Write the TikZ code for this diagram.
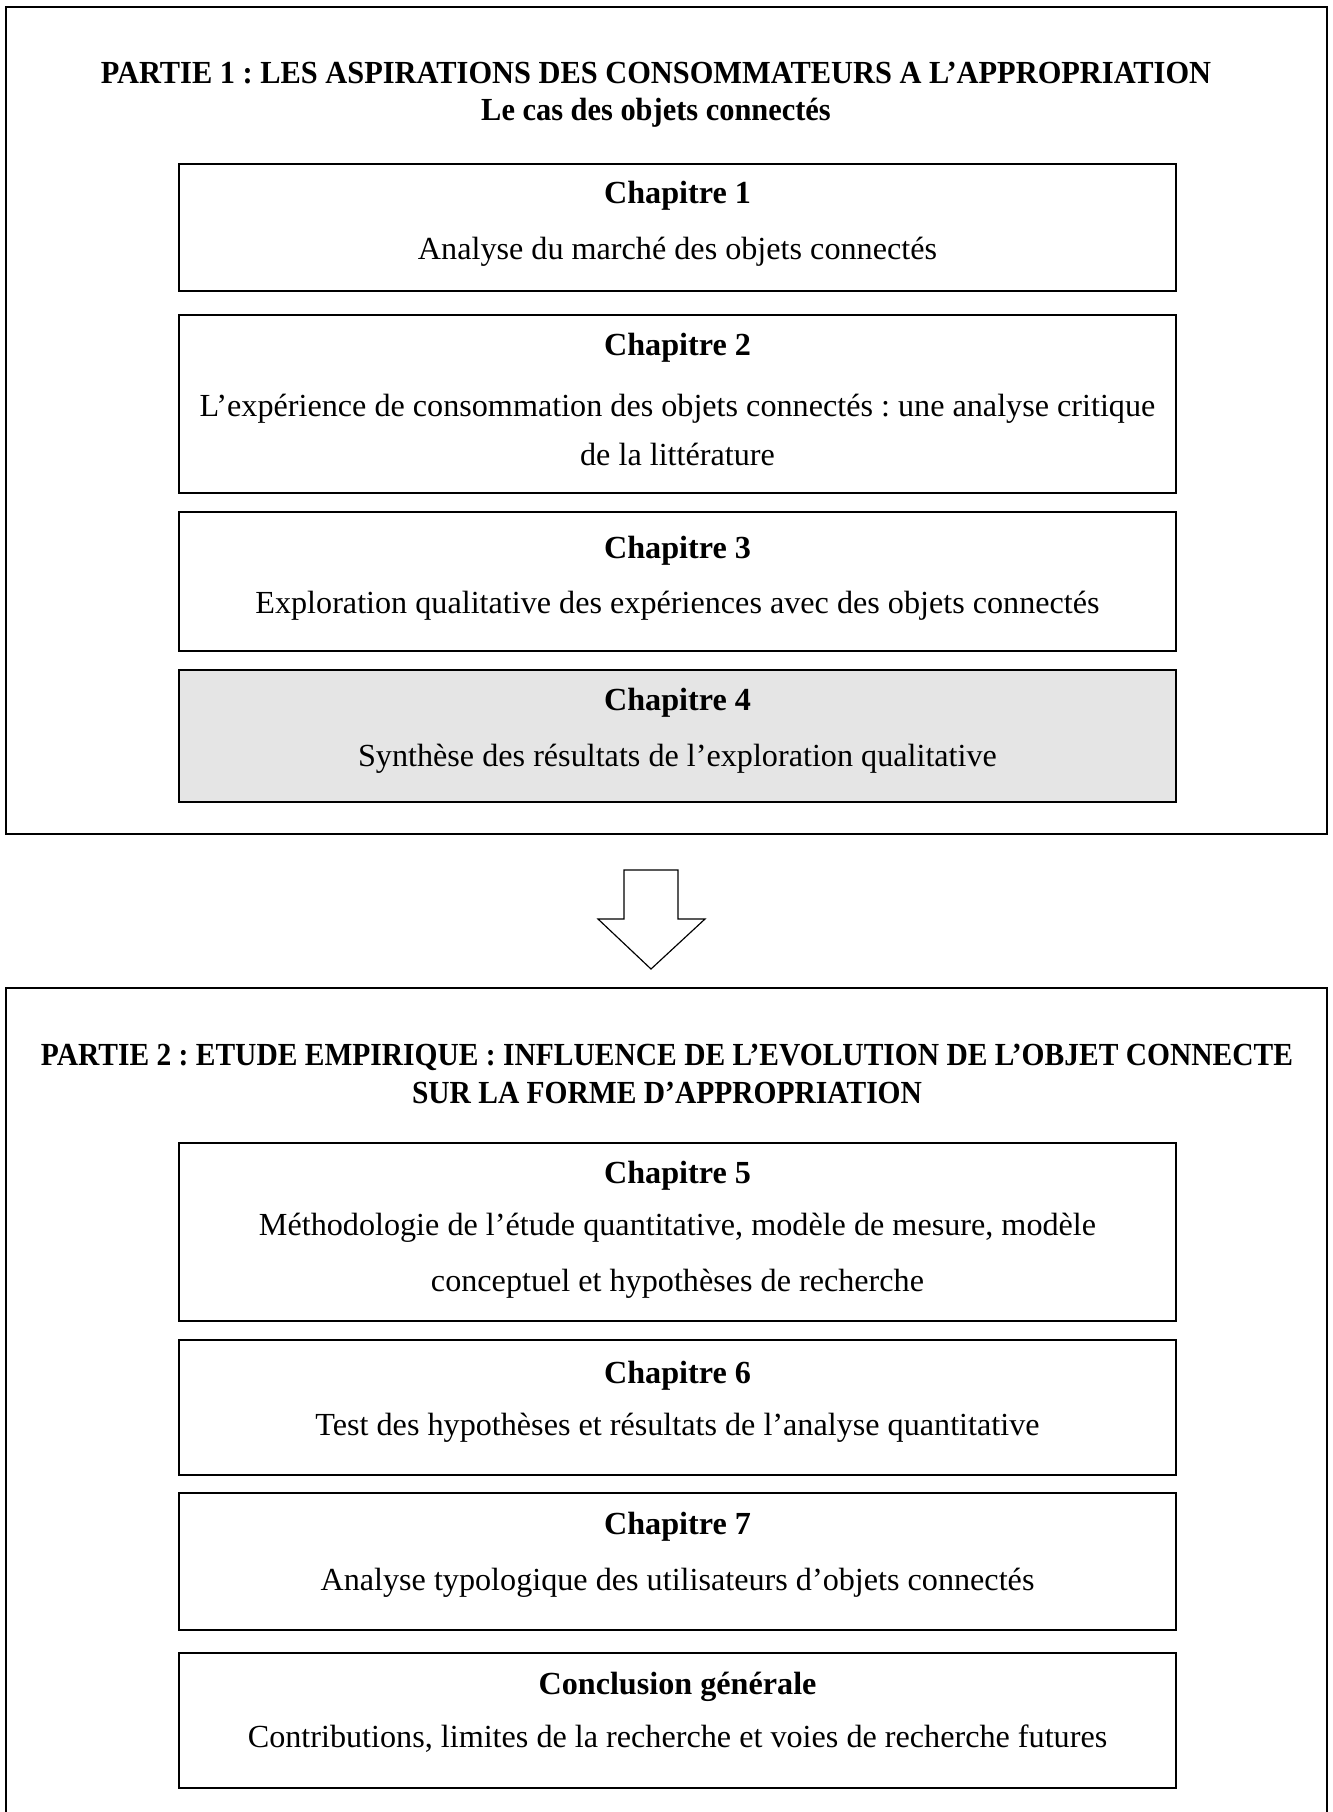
\documentclass[tikz,border=0pt]{standalone}
\usepackage{fontspec}
\setmainfont{Liberation Serif}
\newfontfamily\partonefont[FakeStretch=0.945]{Liberation Serif}
\newfontfamily\parttwofont[FakeStretch=0.917]{Liberation Serif}
\frenchspacing
\begin{document}
\begin{tikzpicture}[x=0.4274pt, y=-0.4274pt,
		frame/.style={draw=black, line width=0.7pt},
		chapbox/.style={draw=black, line width=0.65pt},
		titleone/.style={anchor=base, inner sep=0pt, font=\fontsize{13.75}{16}\partonefont\bfseries},
		titletwo/.style={anchor=base, inner sep=0pt, font=\fontsize{13.75}{16}\parttwofont\bfseries},
		head/.style={anchor=base, inner sep=0pt, font=\fontsize{13.75}{16}\selectfont\bfseries},
		body/.style={anchor=base, inner sep=0pt, font=\fontsize{13.75}{16}\selectfont}]
			\useasboundingbox (0,0) rectangle (1333,1812);
			
			\draw[frame] (6,7) rectangle (1327,834);
			\node[titleone] (p1t1) at (656,83.5) {PARTIE 1 : LES ASPIRATIONS DES CONSOMMATEURS A L’APPROPRIATION};
			\node[titleone] (p1t2) at (656,120.5) {Le cas des objets connectés};
			
			\draw[chapbox] (179,164) rectangle (1176,291);
			\node[head] (c1h) at (677.5,203.5) {Chapitre 1};
			\node[body] (c1b) at (677.5,259.5) {Analyse du marché des objets connectés};
			
			\draw[chapbox] (179,315) rectangle (1176,493);
			\node[head] (c2h) at (677.5,355.5) {Chapitre 2};
			\node[body] (c2b1) at (677.5,416.5) {L’expérience de consommation des objets connectés : une analyse critique};
			\node[body] (c2b2) at (677.5,465.5) {de la littérature};
			
			\draw[chapbox] (179,512) rectangle (1176,651);
			\node[head] (c3h) at (677.5,558.5) {Chapitre 3};
			\node[body] (c3b) at (677.5,613.5) {Exploration qualitative des expériences avec des objets connectés};
			
			\filldraw[chapbox, fill=black!10] (179,670) rectangle (1176,802);
			\node[head] (c4h) at (677.5,710.5) {Chapitre 4};
			\node[body] (c4b) at (677.5,766.5) {Synthèse des résultats de l’exploration qualitative};
			
			\draw[line width=0.5pt] (624,870) -- (678,870) -- (678,919) -- (705,919) -- (651,969) -- (598,919) -- (624,919) -- cycle;
			
			\draw[frame] (6,1812) -- (6,988) -- (1327,988) -- (1327,1812);
			\node[titletwo] (p2t1) at (667,1065.5) {PARTIE 2 : ETUDE EMPIRIQUE : INFLUENCE DE L’EVOLUTION DE L’OBJET CONNECTE};
			\node[titletwo] (p2t2) at (667,1103.5) {SUR LA FORME D’APPROPRIATION};
			
			\draw[chapbox] (179,1143) rectangle (1176,1321);
			\node[head] (c5h) at (677.5,1183.5) {Chapitre 5};
			\node[body] (c5b1) at (677.5,1235.5) {Méthodologie de l’étude quantitative, modèle de mesure, modèle};
			\node[body] (c5b2) at (677.5,1291.5) {conceptuel et hypothèses de recherche};
			
			\draw[chapbox] (179,1340) rectangle (1176,1475);
			\node[head] (c6h) at (677.5,1383.5) {Chapitre 6};
			\node[body] (c6b) at (677.5,1435.5) {Test des hypothèses et résultats de l’analyse quantitative};
			
			\draw[chapbox] (179,1493) rectangle (1176,1630);
			\node[head] (c7h) at (677.5,1534.5) {Chapitre 7};
			\node[body] (c7b) at (677.5,1590.5) {Analyse typologique des utilisateurs d’objets connectés};
			
			\draw[chapbox] (179,1653) rectangle (1176,1788);
			\node[head] (cgh) at (677.5,1694.5) {Conclusion générale};
			\node[body] (cgb) at (677.5,1747.5) {Contributions, limites de la recherche et voies de recherche futures};
		\end{tikzpicture}
\end{document}
